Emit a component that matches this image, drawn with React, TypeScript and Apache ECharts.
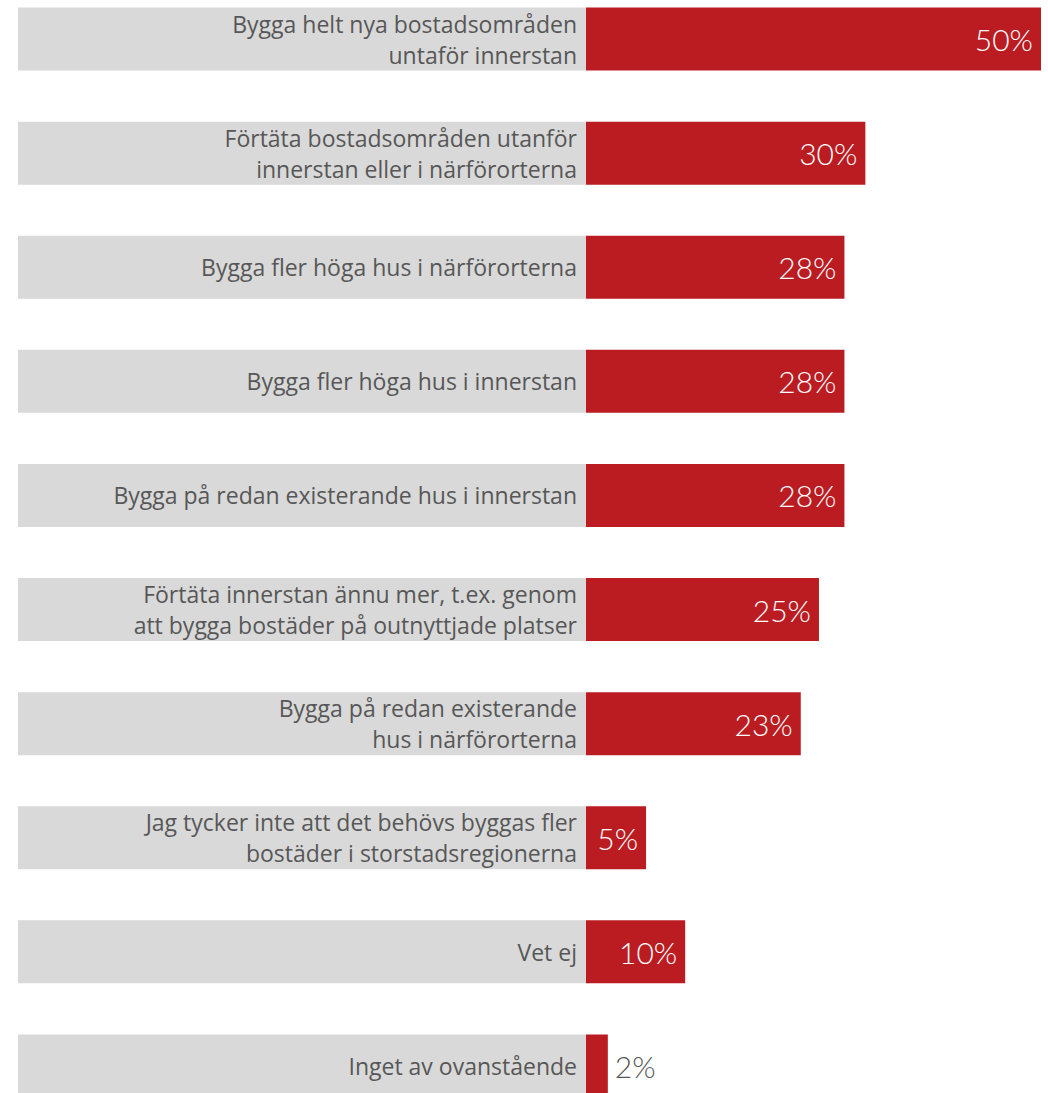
import React, { useEffect, useRef } from "react";
import * as echarts from "echarts";

const categories: string[] = [
  "Bygga helt nya bostadsområden\nuntaför innerstan",
  "Förtäta bostadsområden utanför\ninnerstan eller i närförorterna",
  "Bygga fler höga hus i närförorterna",
  "Bygga fler höga hus i innerstan",
  "Bygga på redan existerande hus i innerstan",
  "Förtäta innerstan ännu mer, t.ex. genom\natt bygga bostäder på outnyttjade platser",
  "Bygga på redan existerande\nhus i närförorterna",
  "Jag tycker inte att det behövs byggas fler\nbostäder i storstadsregionerna",
  "Vet ej",
  "Inget av ovanstående",
];

// bar lengths (percent)
const barValues: number[] = [50, 30.7, 28.4, 28.4, 28.4, 25.6, 23.6, 6.6, 10.9, 2.4];
// printed value labels
const valueLabels: string[] = ["50%", "30%", "28%", "28%", "28%", "25%", "23%", "5%", "10%", "2%"];

const RED = "#bb1c22";
const GRAY_BG = "#d9d9d9";
const TEXT = "#575757";
const CAT_FONT = "'Open Sans', Lato, sans-serif";
const VAL_FONT = "Lato, 'Noto Sans', sans-serif";

const CHART_H = 1141;
const OFFSET = -18.5;

export default function App() {
  const ref = useRef<HTMLDivElement>(null);
  useEffect(() => {
    document.body.style.margin = "0";
    if (!ref.current) return;
    const chart = echarts.init(ref.current, undefined, { renderer: "svg" });
    chart.setOption({
      animation: false,
      grid: [
        { left: 18, width: 568, top: 0, height: CHART_H, containLabel: false },
        { left: 586, width: 455, top: 0, height: CHART_H, containLabel: false },
      ],
      xAxis: [
        { gridIndex: 0, type: "value", min: 0, max: 1, show: false },
        { gridIndex: 1, type: "value", min: 0, max: 50, show: false },
      ],
      yAxis: [
        { gridIndex: 0, type: "category", inverse: true, data: categories, show: false },
        { gridIndex: 1, type: "category", inverse: true, data: categories, show: false },
      ],
      series: [
        {
          type: "bar",
          xAxisIndex: 0,
          yAxisIndex: 0,
          barWidth: 63,
          data: categories.map(() => 1),
          itemStyle: { color: GRAY_BG },
          silent: true,
          label: {
            show: true,
            position: "insideRight",
            distance: 9,
            formatter: (p: any) => p.name,
            color: TEXT,
            fontFamily: CAT_FONT,
            fontSize: 23,
            lineHeight: 31,
            align: "right",
          },
        },
        {
          type: "bar",
          xAxisIndex: 1,
          yAxisIndex: 1,
          barWidth: 63,
          itemStyle: { color: RED },
          silent: true,
          data: barValues.map((v, i) => {
            const outside = v < 4;
            return {
              value: v,
              label: {
                show: true,
                position: outside ? "right" : "insideRight",
                distance: outside ? 7 : 8,
                formatter: valueLabels[i],
                color: outside ? TEXT : "#ffffff",
                fontFamily: VAL_FONT,
                fontWeight: 300,
                fontSize: 30,
              },
            };
          }),
        },
      ],
    });
    return () => chart.dispose();
  }, []);
  return (
    <div style={{ width: 1048, height: 1093, overflow: "hidden", position: "relative" }}>
      <div
        ref={ref}
        style={{ position: "absolute", left: 0, top: OFFSET, width: 1048, height: CHART_H }}
      />
    </div>
  );
}
